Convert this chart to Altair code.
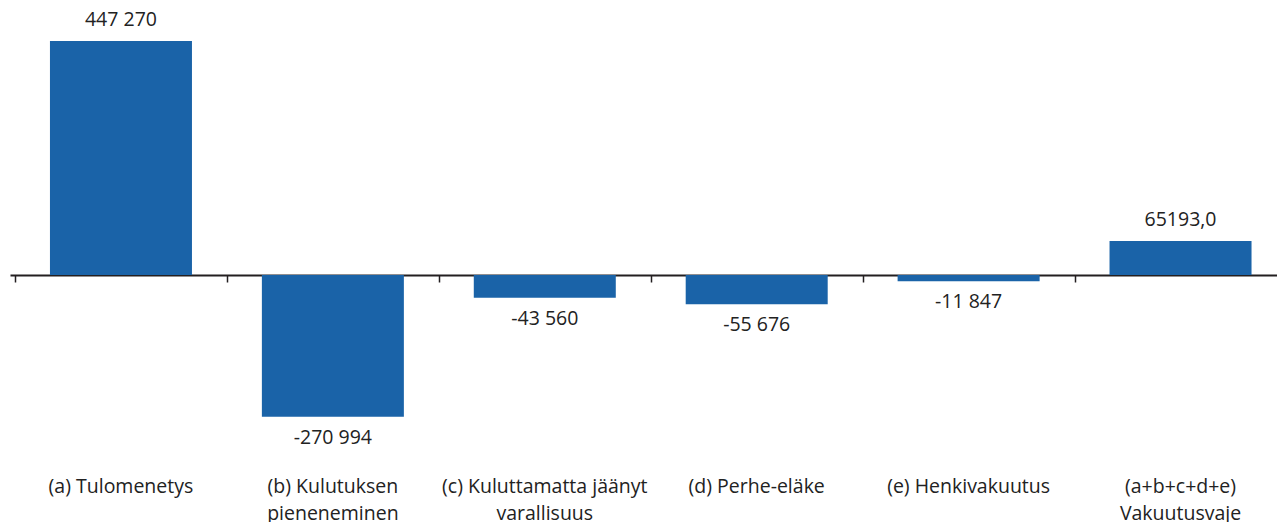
import altair as alt
import pandas as pd

categories = ["a", "b", "c", "d", "e", "f"]
cat_labels = [
    "(a) Tulomenetys",
    "(b) Kulutuksen\npieneneminen",
    "(c) Kuluttamatta jäänyt\nvarallisuus",
    "(d) Perhe-eläke",
    "(e) Henkivakuutus",
    "(a+b+c+d+e)\nVakuutusvaje",
]
values = [447270, -270994, -43560, -55676, -11847, 65193]
value_labels = ["447 270", "-270 994", "-43 560", "-55 676", "-11 847", "65193,0"]

df = pd.DataFrame({
    "cat": categories,
    "label": cat_labels,
    "value": values,
    "vlabel": value_labels,
})
df["idx"] = range(len(categories))

FONT = "Open Sans"
FS = 19.5
TXT = "#222222"
BAR = "#1a63a8"

W = 1267
H = 433
STEP = 213.6
# band boundaries that fall inside the visible width
boundaries = [i - 0.5 for i in range(len(categories))]

x = alt.X(
    "idx:Q",
    scale=alt.Scale(domain=[-0.5, -0.5 + W / STEP], nice=False, zero=False),
    axis=alt.Axis(
        title=None, labels=False, ticks=True, values=boundaries, tickSize=7,
        tickColor="#231f20", tickWidth=1.5, domainColor="#231f20", domainWidth=2,
        offset=-167, grid=False,
    ),
)
y = alt.Y(
    "value:Q",
    scale=alt.Scale(domain=[-319190, 508410], nice=False, zero=False),
    axis=None,
)
xt = alt.X("idx:Q")

base = alt.Chart(df)

bars = base.mark_bar(color=BAR, width=142).encode(x=x, y=y, y2=alt.datum(0))

pos_txt = base.transform_filter("datum.value >= 0").mark_text(
    baseline="bottom", dy=-11, font=FONT, fontSize=FS, color=TXT
).encode(x=xt, y=y, text="vlabel:N")

neg_txt = base.transform_filter("datum.value < 0").mark_text(
    baseline="top", dy=12, font=FONT, fontSize=FS, color=TXT
).encode(x=xt, y=y, text="vlabel:N")

cat_txt = base.mark_text(
    baseline="middle", font=FONT, fontSize=FS, color=TXT, lineBreak="\n", lineHeight=27
).encode(x=xt, y=alt.value(H + 45), text="label:N")

chart = alt.layer(bars, pos_txt, neg_txt, cat_txt).properties(
    width=W, height=H,
    autosize=alt.AutoSizeParams(type="none"),
    padding={"left": 2, "top": 1, "right": 0, "bottom": 90},
    background="white",
).configure_view(strokeWidth=0, stroke=None)

chart.save("out.html", embed_options={"renderer": "svg", "actions": False})
